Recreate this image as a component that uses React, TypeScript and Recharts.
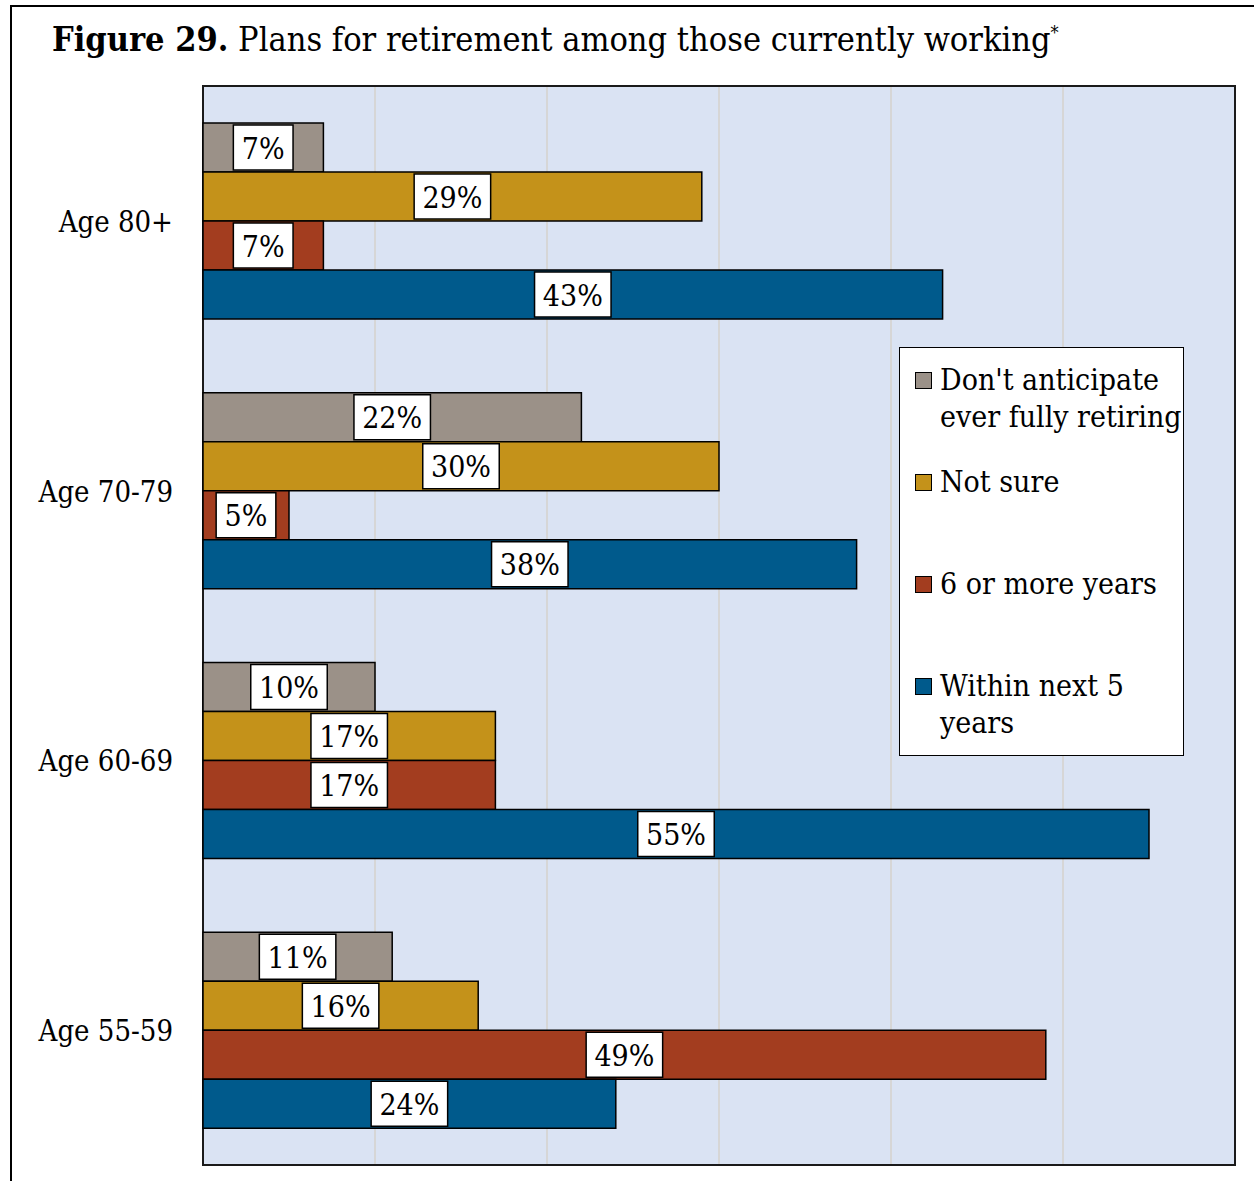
import React from "react";
import { BarChart, Bar, XAxis, YAxis, CartesianGrid, ReferenceArea, LabelList } from "recharts";

const categories = ["Age 80+", "Age 70-79", "Age 60-69", "Age 55-59"];
const dontAnticipate = [7, 22, 10, 11];
const notSure = [29, 30, 17, 16];
const sixOrMore = [7, 5, 17, 49];
const withinFive = [43, 38, 55, 24];
const axisTicks = [0, 10, 20, 30, 40, 50, 60];

const seriesNames = ["Don't anticipate ever fully retiring", "Not sure", "6 or more years", "Within next 5 years"];
const seriesKeys = ["dont", "notSure", "six", "within"];
const seriesColors = ["#9b9188", "#c4921a", "#a33d1f", "#005a8c"];
const legendLines = [["Don't anticipate", "ever fully retiring"], ["Not sure"], ["6 or more years"], ["Within next 5", "years"]];

const data = categories.map((c, i) => ({
  category: c,
  dont: dontAnticipate[i],
  notSure: notSure[i],
  six: sixOrMore[i],
  within: withinFive[i],
}));

const FONT = "'DejaVu Serif Condensed', 'Liberation Serif', serif";

const estWidth = (s: string, fs: number) => {
  let w = 0;
  for (const ch of s) w += ch === "%" ? 0.83 : 0.56;
  return w * fs;
};

const ValueLabel = (props: any) => {
  const { x, y, width, height, value } = props;
  const txt = `${value}%`;
  const fs = 30;
  const bw = estWidth(txt, fs) + 18;
  const bh = 45;
  const cx = x + width / 2;
  const cy = y + height / 2;
  return (
    <g>
      <rect x={cx - bw / 2} y={cy - bh / 2} width={bw} height={bh} fill="#fff" stroke="#000" strokeWidth={1.5} />
      <text x={cx} y={cy + 11} textAnchor="middle" fontSize={fs} fontFamily={FONT} fill="#000">{txt}</text>
    </g>
  );
};

const CatTick = (props: any) => {
  const { y, payload } = props;
  return (
    <text x={173} y={y + 11} textAnchor="end" fontSize={29} fontFamily={FONT} fill="#000">{payload.value}</text>
  );
};

export default function App() {
  return (
    <div style={{ position: "absolute", left: 0, top: 0, width: 1254, height: 1181, overflow: "hidden", background: "#fff" }}>
      <div style={{ position: "absolute", left: 10, top: 5, width: 1400, height: 1400, borderLeft: "2px solid #000", borderTop: "2px solid #000" }} />
      <div style={{ position: "absolute", left: 52, top: 11, fontFamily: FONT, fontSize: 34, whiteSpace: "nowrap", color: "#000", lineHeight: "44px" }}>
        <b>Figure 29.</b> Plans for retirement among those currently working<sup style={{ fontSize: 18 }}>*</sup>
      </div>
      <div style={{ position: "absolute", left: 0, top: 0 }}>
        <BarChart
          width={1254}
          height={1181}
          data={data}
          layout="vertical"
          margin={{ top: 86, right: 19, bottom: 16, left: 0 }}
          barCategoryGap={37}
          barGap={0}
        >
          <CartesianGrid horizontal={false} vertical={true} fill="#dae3f3" fillOpacity={1} stroke="#d6d6d6" strokeWidth={2} />
          <XAxis type="number" domain={[0, 60]} ticks={axisTicks} hide />
          <YAxis type="category" dataKey="category" width={203} axisLine={false} tickLine={false} tick={<CatTick />} />
          {seriesKeys.map((k, i) => (
            <Bar key={k} dataKey={k} name={seriesNames[i]} fill={seriesColors[i]} stroke="#000" strokeWidth={1.5} isAnimationActive={false}>
              <LabelList dataKey={k} content={<ValueLabel />} />
            </Bar>
          ))}
          <ReferenceArea x1={0} x2={60} fill="none" stroke="#1a1a1a" strokeWidth={2} />
        </BarChart>
      </div>
      <div style={{ position: "absolute", left: 899, top: 347, width: 283, height: 407, background: "#fff", border: "1.5px solid #000", fontFamily: FONT, fontSize: 30, color: "#000" }}>
        {seriesNames.map((n, i) => (
          <div key={n} style={{ position: "absolute", left: 0, top: 10 + i * 102, width: 283 }}>
            <div style={{ position: "absolute", left: 15, top: 14, width: 15, height: 15, background: seriesColors[i], border: "1.5px solid #000" }} />
            {legendLines[i].map((ln, j) => (
              <div key={j} style={{ position: "absolute", left: 40, top: j * 37 + 2, whiteSpace: "nowrap", lineHeight: "40px" }}>{ln}</div>
            ))}
          </div>
        ))}
      </div>
    </div>
  );
}
